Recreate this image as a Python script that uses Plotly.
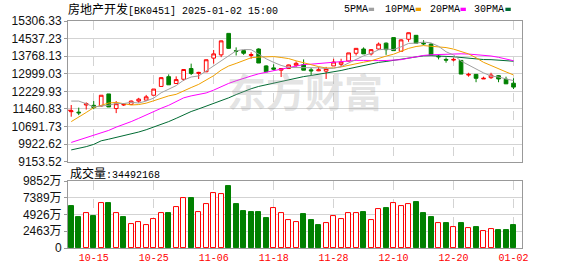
import numpy as np
import pandas as pd
import plotly.graph_objects as go

# ---------------- data ----------------
dates = ["10-10","10-11","10-14","10-15","10-16","10-17","10-18","10-21","10-22","10-23",
         "10-24","10-25","10-28","10-29","10-30","10-31","11-01","11-04","11-05","11-06",
         "11-07","11-08","11-11","11-12","11-13","11-14","11-15","11-18","11-19","11-20",
         "11-21","11-22","11-25","11-26","11-27","11-28","11-29","12-02","12-03","12-04",
         "12-05","12-06","12-09","12-10","12-11","12-12","12-13","12-16","12-17","12-18",
         "12-19","12-20","12-23","12-24","12-25","12-26","12-27","12-30","12-31","01-02"]

open_ = [11340,11320,11632,11618,11590,12116,11476,11632,11660,11803,
         11846,12059,12444,12871,12572,12757,13227,13013,13085,13683,
         13825,14765,14010,14010,13797,14081,13341,13255,13156,13227,
         13369,13398,13170,13128,13113,13341,13412,13554,13896,14081,
         13868,14081,14338,14580,13982,14509,14680,14338,14295,13768,
         13626,13597,13583,12942,12971,12771,12828,12914,12757,12586]
high = [11632,11518,11746,11803,12059,12116,11803,11717,11830,11945,
        12073,12330,12850,12971,12885,13184,13441,13085,13620,14039,
        14450,14765,14153,14010,13939,14110,13370,13412,13240,13398,
        13540,13626,13255,13298,13298,13654,13654,13910,14110,14153,
        14081,14366,14366,14580,14509,14800,14680,14466,14338,13825,
        13711,13697,13583,13042,12985,12871,13042,12942,12871,12800]
low = [11120,11190,11433,11447,11560,11547,11276,11590,11645,11732,
       11832,12059,12444,12515,12572,12686,12942,12771,13070,13441,
       13725,14090,13797,13825,13654,13469,13085,13142,12857,13220,
       13298,13156,12942,13113,12771,13341,13298,13540,13797,13868,
       13797,14039,13825,14010,13982,14395,14338,14252,13825,13626,
       13483,13540,12985,12871,12629,12771,12771,12629,12558,12330]
close = [11376,11290,11689,11518,12059,11547,11689,11660,11803,11888,
         11988,12330,12828,12515,12743,13184,13013,13056,13611,13868,
         14437,14110,13982,13896,13839,13469,13085,13198,13227,13384,
         13455,13156,13128,13170,13227,13512,13512,13910,14110,13868,
         14053,14295,14053,14010,14480,14793,14338,14309,13825,13740,
         13597,13626,12985,12971,12800,12800,12942,12771,12558,12416]

# volume in 万 and colour flag (1 = red/up, 0 = green/down) as shown
volume = [6160,4600,5210,4740,6680,6680,5210,4600,3555,3790,
          3410,4270,5210,5120,5970,7350,7390,5360,6400,8060,
          7960,9150,6400,5400,5260,5260,4410,5830,5210,4080,
          3790,4980,4120,3410,3650,4650,4220,5070,5210,5260,
          4080,5690,5880,6640,6210,6490,6830,5120,4550,3650,
          3700,3130,3700,2990,3130,2420,2840,2700,2700,3449]
vol_up = [0,0,1,0,1,0,1,0,1,1, 1,1,1,0,1,1,0,1,1,1,
          1,0,0,0,0,0,0,1,1,1, 1,0,0,0,1,1,1,1,1,0,
          1,1,0,1,1,1,0,0,0,1, 0,1,0,1,0,1,1,0,0,0]

# moving-average values before the window has enough closes
ma5_early = [11803,11803,11689,11547]
ma10_early = [10906,11091,11305,11518,11632,11718,11746,11689,11632]
ma20_early = [9994,10094,10208,10308,10422,10521,10664,10778,10906,11048,
              11205,11333,11490,11618,11774,11945,12031,12088,12159]
ma30_early = [9667,9724,9810,9909,10066,10137,10208,10279,10379,10450,
              10550,10664,10763,10906,11048,11205,11347,11461,11575,11703,
              11831,11945,12088,12230,12344,12444,12515,12586,12657]

price_ticks = [9153.52,9922.62,10691.73,11460.83,12229.93,12999.03,13768.13,14537.23,15306.33]
vol_ticks = [0,2463,4926,7389,9852]
vol_ticktext = ["0","2463万","4926万","7389万","9852万"]
xtick_dates = ["10-15","10-25","11-06","11-18","11-28","12-10","12-20","01-02"]
prev_close = 11402
last_volume_text = "34492168"

title_cn = "房地产开发"
title_code = "[BK0451] 2025-01-02 15:00"

# ---------------- derived ----------------
n = len(close)
xs = list(range(n))
cs = pd.Series(close, dtype=float)

def ma(period, early):
    m = cs.rolling(period).mean().tolist()
    for i, v in enumerate(early):
        m[i] = v
    return m

ma5, ma10, ma20, ma30 = ma(5, ma5_early), ma(10, ma10_early), ma(20, ma20_early), ma(30, ma30_early)

RED = "#ff0000"
GREEN = "#008000"
C5, C10, C20, C30 = "#a0a0a0", "#f0a000", "#ff00ff", "#006b33"

xtickvals = [dates.index(d) for d in xtick_dates]

fig = go.Figure()

for vals, col in [(ma30, C30), (ma20, C20), (ma10, C10), (ma5, C5)]:
    fig.add_trace(go.Scatter(x=xs, y=vals, mode="lines", line=dict(color=col, width=1),
                             xaxis="x", yaxis="y", hoverinfo="skip", showlegend=False))

fig.add_trace(go.Candlestick(
    x=xs, open=open_, high=high, low=low, close=close, xaxis="x", yaxis="y",
    increasing=dict(line=dict(color=RED, width=1), fillcolor="white"),
    decreasing=dict(line=dict(color=GREEN, width=1), fillcolor=GREEN),
    whiskerwidth=0, showlegend=False))

fig.add_trace(go.Bar(
    x=xs, y=volume, xaxis="x2", yaxis="y2", width=0.66,
    marker=dict(color=["white" if u else GREEN for u in vol_up],
                line=dict(color=[RED if u else GREEN for u in vol_up], width=1)),
    showlegend=False))

L, R, T, B = 57, 56, 21, 21
W, H = 578, 276
PW, PH = W - L - R, H - T - B

def px(x):
    return (x - L) / PW

def py(y):
    return (H - B - y) / PH

FRAME = "#999999"
GRID = "#d3d3d3"
NUMFONT = "Liberation Sans, Noto Sans CJK SC, sans-serif"
MONO = "Liberation Mono"
CJK = "Noto Sans CJK SC"

common_x = dict(range=[-0.43, 60.13], tickmode="array", tickvals=xtickvals,
                showgrid=True, gridcolor=GRID, griddash="dash", gridwidth=1,
                showline=True, linecolor=FRAME, linewidth=1, mirror=True,
                zeroline=False, ticks="", fixedrange=True)

fig.update_layout(
    width=W, height=H, margin=dict(l=L, r=R, t=T, b=B, pad=0),
    paper_bgcolor="white", plot_bgcolor="white",
    bargap=0, showlegend=False,
    xaxis=dict(**common_x, anchor="y", showticklabels=False, rangeslider=dict(visible=False)),
    xaxis2=dict(**common_x, anchor="y2", matches="x", ticktext=xtick_dates,
                tickfont=dict(family=MONO, size=10, color=RED)),
    yaxis=dict(domain=[py(166), 1.0], range=[price_ticks[0], price_ticks[-1]],
               tickmode="array", tickvals=price_ticks, ticktext=[f"{v:.2f}" for v in price_ticks],
               showgrid=True, gridcolor=GRID, showline=True, linecolor=FRAME, mirror=True,
               ticks="outside", ticklen=3, tickcolor=FRAME, zeroline=False,
               tickfont=dict(family=NUMFONT, size=12, color="#111"), anchor="x"),
    yaxis2=dict(domain=[0.0, py(186)], range=[0, 9852],
                tickmode="array", tickvals=vol_ticks, ticktext=vol_ticktext,
                showgrid=True, gridcolor=GRID, showline=True, linecolor=FRAME, mirror=True,
                ticks="outside", ticklen=3, tickcolor=FRAME, zeroline=False,
                tickfont=dict(family=NUMFONT, size=12, color="#111"), anchor="x2"),
)

ann = []
ann.append(dict(x=px(55), y=py(8.5), xref="paper", yref="paper", xanchor="left", yanchor="middle",
                showarrow=False, font=dict(family=CJK, size=12, color="#000"),
                text=title_cn + f'<span style="font-family:{MONO};font-size:10px">{title_code}</span>'))
for label, x0, col, sx in [("5PMA", 338, C5, 365), ("10PMA", 380, C10, 413),
                           ("20PMA", 425.5, C20, 459), ("30PMA", 471, C30, 505)]:
    ann.append(dict(x=px(x0), y=py(9), xref="paper", yref="paper", xanchor="left", yanchor="middle",
                    showarrow=False, text=label, font=dict(family=MONO, size=10, color="#000")))
    fig.add_shape(type="rect", xref="paper", yref="paper", x0=px(sx), x1=px(sx + 5.5),
                  y0=py(10.7), y1=py(7.3), line=dict(width=0), fillcolor=col)
ann.append(dict(x=px(57), y=py(177.5), xref="paper", yref="paper", xanchor="left", yanchor="middle",
                showarrow=False, font=dict(family=CJK, size=12, color="#000"),
                text=f'成交量<span style="font-family:{MONO};font-size:10px">:{last_volume_text}</span>'))
ann.append(dict(x=px(300), y=py(92), xref="paper", yref="paper", xanchor="center", yanchor="middle",
                showarrow=False, text="<b>东方财富</b>",
                font=dict(family=CJK, size=39, color="rgba(160,160,160,0.30)")))
fig.update_layout(annotations=ann)

fig.add_shape(type="line", xref="paper", yref="y", x0=0, x1=px(60), y0=prev_close, y1=prev_close,
              line=dict(color=RED, width=1))

fig.write_html("out.html")
